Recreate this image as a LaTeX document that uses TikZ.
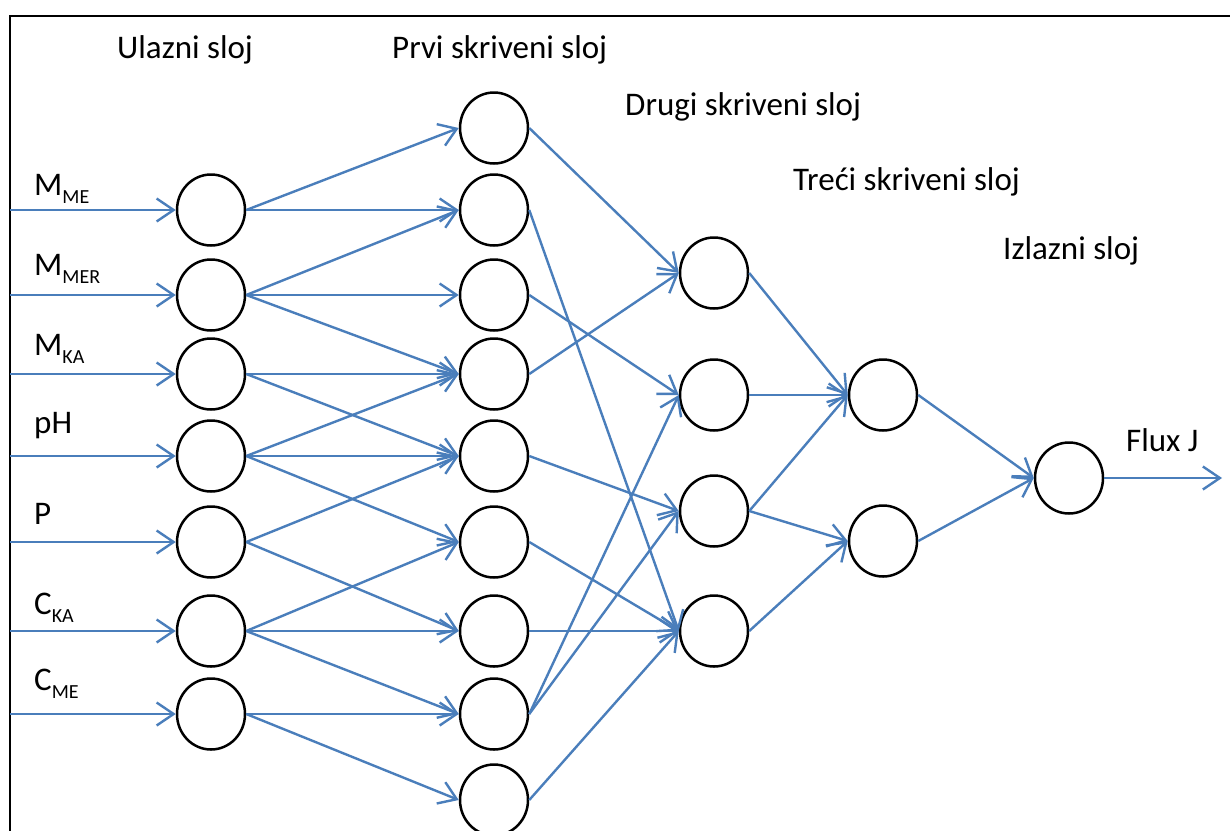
\documentclass[tikz,border=0pt]{standalone}
\usepackage{fontspec}
\setmainfont{Carlito}
\usetikzlibrary{arrows.meta,shapes.geometric}
\definecolor{lineblue}{RGB}{74,126,187}
\newcommand{\sbs}[1]{\raisebox{-8pt}{\fontsize{20}{20}\selectfont #1}}
\begin{document}
\begin{tikzpicture}[x=1pt,y=-1pt,
  neuron/.style={ellipse,draw=black,line width=2.5pt,minimum width=68pt,minimum height=71pt,inner sep=0pt},
  conn/.style={draw=lineblue,line width=2.4pt,-{Straight Barb[length=17pt,width=23pt]}},
  lbl/.style={anchor=base west,inner sep=0pt,font=\fontsize{33}{33}\selectfont},
  frame/.style={draw=black,line width=2.8pt}
]
\useasboundingbox (0,0) rectangle (1230,830);
\clip (0,0) rectangle (1230,830);
\fill[white] (0,0) rectangle (1230,830);
\draw[frame] (10,900) -- (10,16) -- (1300,16);

% input layer
\foreach \i/\y in {1/210,2/295,3/374,4/456,5/542,6/631,7/714}{
  \node[neuron] (I\i) at (211,\y) {};
  \coordinate (S\i) at (10,\y);
}
% first hidden
\foreach \i/\y in {1/128,2/210,3/295,4/374,5/456,6/542,7/631,8/714,9/800}{
  \node[neuron] (A\i) at (494,\y) {};
}
% second hidden
\foreach \i/\y in {1/273,2/395,3/511,4/631}{
  \node[neuron] (B\i) at (714,\y) {};
}
% third hidden
\node[neuron] (C1) at (883,395) {};
\node[neuron] (C2) at (883,541) {};
% output
\node[neuron] (O) at (1069,478) {};
\coordinate (E) at (1222,478);

% labels
\node[lbl] (t1) at (117,58) {Ulazni sloj};
\node[lbl] (t2) at (392,58) {Prvi skriveni sloj};
\node[lbl] (t3) at (625,115) {Drugi skriveni sloj};
\node[lbl] (t4) at (793,190) {Treći skriveni sloj};
\node[lbl] (t5) at (1003,259) {Izlazni sloj};
\node[lbl] (t6) at (1126,451) {Flux J};

\node[lbl] (l1) at (34,195) {M\sbs{ME}};
\node[lbl] (l2) at (34,275) {M\sbs{MER}};
\node[lbl] (l3) at (34,355) {M\sbs{KA}};
\node[lbl] (l4) at (34,433) {pH};
\node[lbl] (l5) at (34,524) {P};
\node[lbl] (l6) at (34,614) {C\sbs{KA}};
\node[lbl] (l7) at (34,690) {C\sbs{ME}};

% inputs
\foreach \i in {1,...,7}{ \draw[conn] (S\i) -- (I\i.west); }
% input -> first hidden
\foreach \a/\b in {1/1,1/2,2/2,2/3,2/4,3/4,3/5,4/4,4/5,4/6,5/5,5/7,6/6,6/7,6/8,7/8,7/9}{
  \draw[conn] (I\a.east) -- (A\b.west);
}
% first -> second hidden
\foreach \a/\b in {1/1,2/4,3/2,4/1,5/3,6/4,7/4,8/2,8/3,9/4}{
  \draw[conn] (A\a.east) -- (B\b.west);
}
% second -> third
\foreach \a/\b in {1/1,2/1,3/1,3/2,4/2}{
  \draw[conn] (B\a.east) -- (C\b.west);
}
\draw[conn] (C1.east) -- (O.west);
\draw[conn] (C2.east) -- (O.west);
\draw[conn] (O.east) -- (E);
\end{tikzpicture}
\end{document}
